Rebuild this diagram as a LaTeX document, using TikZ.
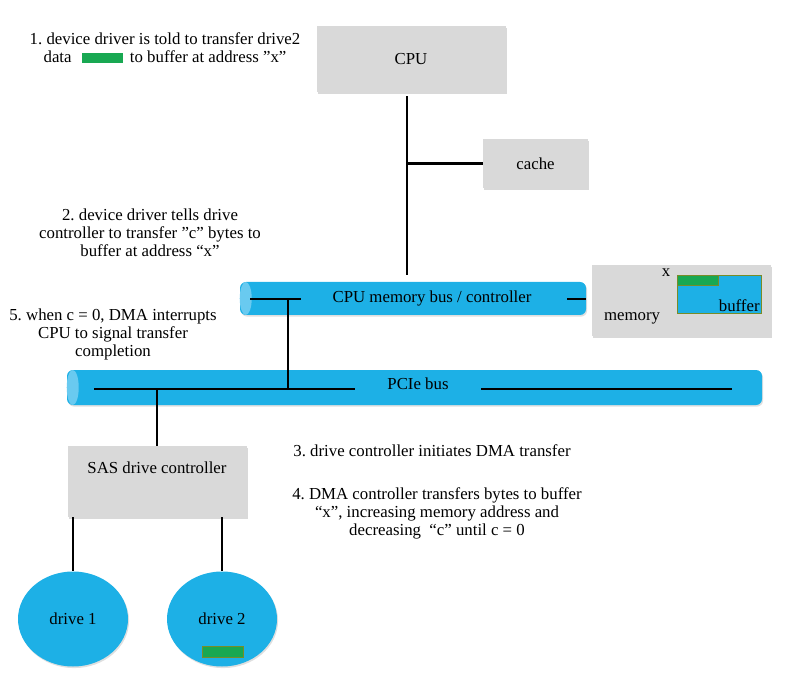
\documentclass[tikz,border=0pt]{standalone}
\usepackage{fontspec}
\setmainfont{Liberation Serif}
\usetikzlibrary{shapes.geometric,shadows,positioning}

\definecolor{busblue}{RGB}{29,176,230}
\definecolor{capblue}{RGB}{105,202,240}
\definecolor{boxgray}{RGB}{217,217,217}
\definecolor{datagreen}{RGB}{24,168,82}
\definecolor{edgeolive}{RGB}{120,140,40}

\def\u{0.75pt}

\tikzset{
  every node/.style={font=\fontsize{12.6}{13.5}\selectfont},
  unit/.style={fill=boxgray, inner sep=0pt,
    drop shadow={shadow xshift=0.8pt, shadow yshift=-1.2pt, opacity=.3}},
  bus/.style={fill=busblue, inner sep=0pt, rounded corners=6*\u,
    drop shadow={shadow xshift=0.8pt, shadow yshift=-1.2pt, opacity=.25}},
  buscap/.style={fill=capblue},
  disk/.style={ellipse, fill=busblue, inner sep=0pt,
    minimum width=110*\u, minimum height=95*\u,
    drop shadow={shadow xshift=0.8pt, shadow yshift=-1.2pt, opacity=.25}},
  chunk/.style={fill=datagreen, draw=edgeolive, line width=.3pt, inner sep=0pt,
    minimum width=41*\u, minimum height=11*\u},
  wire/.style={line width=2.1pt},
  note/.style={align=center}
}

\begin{document}
\frenchspacing
\begin{tikzpicture}[x=\u, y=-\u]
  \useasboundingbox (0,0) rectangle (788,698);

  % boxes
  \node[unit, minimum width=189*\u, minimum height=66*\u] (cpu) at (411,59) {CPU};
  \node[unit, minimum width=105*\u, minimum height=49*\u] (cache) at (535.5,163.5) {cache};
  \node[bus, minimum width=346*\u, minimum height=33*\u] (membus) at (413,298.5) {};
  \fill[buscap] ([xshift=6*\u]membus.west) ellipse [x radius=6*\u, y radius=16.5*\u];
  \node (membuslabel) at (432,298) {CPU memory bus / controller};
  \node[unit, minimum width=179*\u, minimum height=71*\u] (memory) at (681.5,300.5) {};
  \node (memlabel) at (632,318) {memory};
  \node (addrx) at (666,273) {x};
  \node[fill=busblue, draw=edgeolive, line width=.3pt, inner sep=0pt,
        minimum width=84*\u, minimum height=38*\u] (buffer) at (719,294) {};
  \node[chunk, anchor=north west, minimum height=10*\u] (bufdata) at (buffer.north west) {};
  \node[anchor=south east, inner sep=1pt] (buflabel) at (buffer.south east) {buffer};
  \node[bus, minimum width=695*\u, minimum height=35*\u] (pcie) at (414.5,387.5) {};
  \fill[buscap] ([xshift=6*\u]pcie.west) ellipse [x radius=6*\u, y radius=17.5*\u];
  \node (pcielabel) at (418,384) {PCIe bus};
  \node[unit, minimum width=179*\u, minimum height=71*\u] (sas) at (157.5,481.5) {};
  \node (saslabel) at (157,468) {SAS drive controller};
  \node[disk] (drive1) at (73,619) {drive 1};
  \node[disk] (drive2) at (222,619) {drive 2};
  \node[chunk] (diskdata) at (222.5,651.5) {};

  % wires
  \coordinate (j1) at (407,163.5);
  \draw[wire, shorten <=3pt, shorten >=5pt] (j1 |- cpu.south) -- (j1 |- membus.north);
  \draw[wire] (j1) -- (cache.west);
  \coordinate (mbl) at (250,299);
  \coordinate (mbr) at (301,299);
  \coordinate (mstub) at (567,299);
  \coordinate (j2) at (288,299);
  \draw[wire] (mbl) -- (mbr);
  \draw[wire] (mstub) -- (mstub -| membus.east);
  \coordinate (pl) at (94,389);
  \coordinate (pm1) at (355,389);
  \coordinate (pm2) at (481,389);
  \coordinate (pr) at (732,389);
  \coordinate (j3) at (157,389);
  \draw[wire] (pl) -- (pm1);
  \draw[wire] (pm2) -- (pr);
  \draw[wire] (j2) -- (j2 |- pl);
  \draw[wire] (j3) -- (j3 |- sas.north);
  \draw[wire] (drive1.north |- sas.south) -- (drive1.north);
  \draw[wire] (drive2.north |- sas.south) -- (drive2.north);

  % notes
  \node[note] (step1) at (165,48) {1. device driver is told to transfer drive2\\
    data\hspace{8pt}\textcolor{datagreen}{\rule[-0.5pt]{30.75pt}{7.5pt}}\hspace{5pt}to buffer at address ”x”};
  \node[note] (step2) at (150,233) {2. device driver tells drive\\
    controller to transfer ”c” bytes to\\buffer at address “x”};
  \node[note] (step5) at (113,334) {5. when c = 0, DMA interrupts\\
    CPU to signal transfer\\completion};
  \node[note] (step3) at (432,451) {3. drive controller initiates DMA transfer};
  \node[note] (step4) at (437,513) {4. DMA controller transfers bytes to buffer\\
    “x”, increasing memory address and\\decreasing\ \ “c” until c = 0};
\end{tikzpicture}
\end{document}
